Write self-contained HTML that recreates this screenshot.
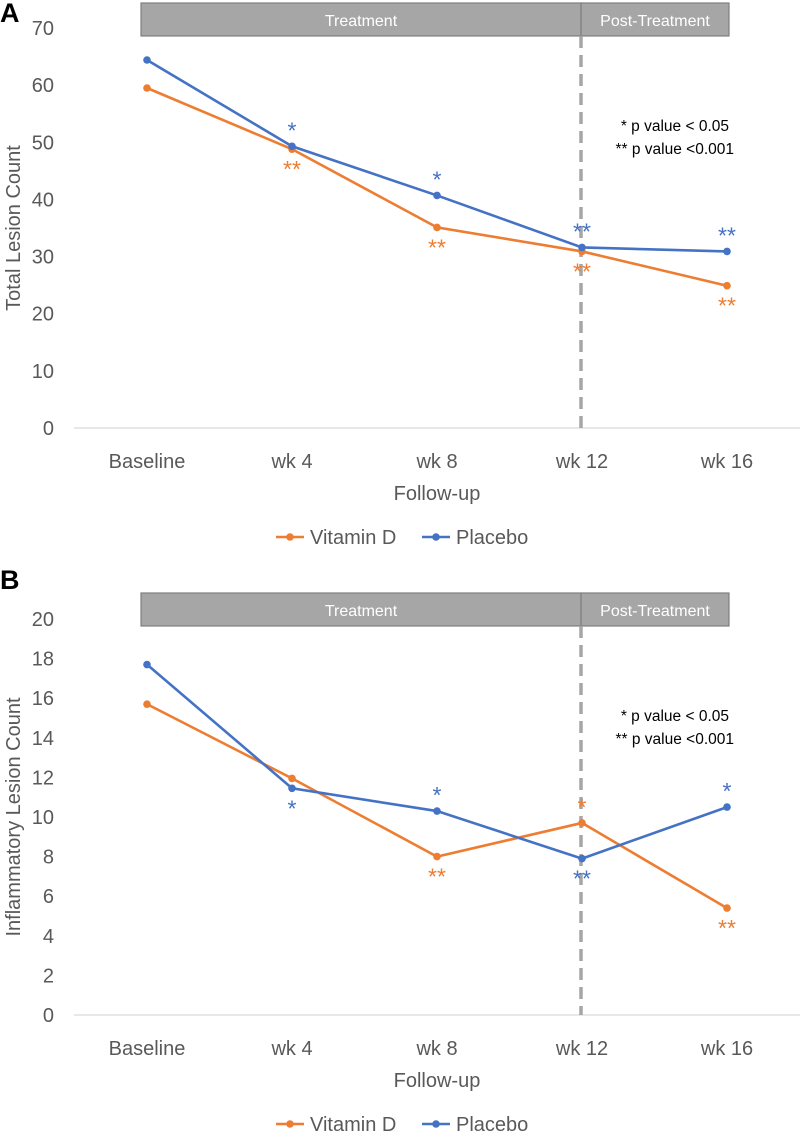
<!DOCTYPE html>
<html><head><meta charset="utf-8"><style>
body{margin:0;background:#fff}
svg text{font-family:"Liberation Sans",sans-serif}
</style></head><body>
<svg id="s" width="800" height="1136" viewBox="0 0 800 1136" xmlns="http://www.w3.org/2000/svg"></svg>
<script>
const categories=["Baseline","wk 4","wk 8","wk 12","wk 16"];
const aVitD=[59.5,48.8,35.1,30.9,24.9];
const aPlacebo=[64.4,49.3,40.7,31.6,30.9];
const aTicks=[0,10,20,30,40,50,60,70];
const aVitDStars=["","**","**","**","**"];
const aPlaceboStars=["","*","*","**","**"];
const bVitD=[15.7,11.95,8.0,9.7,5.4];
const bPlacebo=[17.7,11.45,10.3,7.9,10.5];
const bTicks=[0,2,4,6,8,10,12,14,16,18,20];
const bVitDStars=["","","**","*","**"];
const bPlaceboStars=["","*","*","**","*"];
const bVitDAbove=[false,false,false,true,false];
const bPlaceboAbove=[false,false,true,false,true];

const svg=document.getElementById('s');
const NS="http://www.w3.org/2000/svg";
function mk(tag,attrs,txt){const e=document.createElementNS(NS,tag);for(const k in attrs)e.setAttribute(k,attrs[k]);if(txt!==undefined)e.textContent=txt;svg.appendChild(e);return e;}
const OR="#ED7D31",BL="#4472C4",GR="#595959";
function xPos(i){return 147+i*145;}

function chart(p){
  const y=v=>p.y0-(v-p.min)/(p.max-p.min)*(p.y0-p.yTop);
  let e=mk('text',{x:0,y:p.letterY,'font-size':27,'font-weight':'bold',fill:'#000'},p.letter);
  
  e=mk('rect',{x:141,y:p.boxY,width:440,height:33,fill:'#A6A6A6',stroke:'#7F7F7F','stroke-width':1.2});
  
  e=mk('text',{x:361,y:p.boxY+23,'font-size':16,fill:'#fff','text-anchor':'middle'},'Treatment');
  
  e=mk('rect',{x:581,y:p.boxY,width:148,height:33,fill:'#A6A6A6',stroke:'#7F7F7F','stroke-width':1.2});
  
  e=mk('text',{x:655,y:p.boxY+23,'font-size':16,fill:'#fff','text-anchor':'middle'},'Post-Treatment');
  
  p.ticks.forEach(t=>{
    e=mk('text',{x:54,y:y(t)+7,'font-size':20,fill:GR,'text-anchor':'end'},t);
    
  });
  e=mk('line',{x1:74,x2:800,y1:y(p.min),y2:y(p.min),stroke:'#D9D9D9','stroke-width':1.3});
  
  e=mk('line',{x1:581,x2:581,y1:p.boxY+33,y2:y(p.min),stroke:'#A6A6A6','stroke-width':3.5,'stroke-dasharray':'12,7'});
  
  categories.forEach((c,i)=>{
    e=mk('text',{x:xPos(i),y:y(p.min)+40,'font-size':20,fill:GR,'text-anchor':'middle'},c);
    
  });
  e=mk('text',{x:437,y:y(p.min)+72,'font-size':20,fill:GR,'text-anchor':'middle'},'Follow-up');
  
  const cy=(p.yTop+y(p.min))/2;
  e=mk('text',{x:20,y:cy,'font-size':20,fill:GR,'text-anchor':'middle',transform:`rotate(-90 20 ${cy})`},p.yTitle);
  
  [[p.vit,OR,'vitamin-d'],[p.pla,BL,'placebo']].forEach(([d,c,n])=>{
    e=mk('polyline',{points:d.map((v,i)=>xPos(i)+','+y(v)).join(' '),fill:'none',stroke:c,'stroke-width':2.6});
    
    d.forEach((v,i)=>{
      e=mk('circle',{cx:xPos(i),cy:y(v),r:3.8,fill:c});
      
    });
  });
  [[p.vit,p.vS,p.vA,OR,'vitamin-d'],[p.pla,p.pS,p.pA,BL,'placebo']].forEach(([d,s,a,c,n])=>{
    d.forEach((v,i)=>{ if(!s[i])return;
      const yy=a[i]?y(v)-8:y(v)+28;
      e=mk('text',{x:xPos(i),y:yy,'font-size':23,fill:c,'text-anchor':'middle'},s[i]);
      
    });
  });
  e=mk('text',{x:729,y:p.noteY,'font-size':15.5,fill:'#000','text-anchor':'end'},'* p value < 0.05');
  
  e=mk('text',{x:734,y:p.noteY+23,'font-size':15.5,fill:'#000','text-anchor':'end'},'** p value <0.001');
  
  const ly=p.legY;
  e=mk('line',{x1:276,x2:304,y1:ly,y2:ly,stroke:OR,'stroke-width':2.6});
  e=mk('circle',{cx:290,cy:ly,r:3.8,fill:OR});
  e=mk('text',{x:310,y:ly+7,'font-size':20,fill:GR},'Vitamin D');
  e=mk('line',{x1:422,x2:450,y1:ly,y2:ly,stroke:BL,'stroke-width':2.6});
  e=mk('circle',{cx:436,cy:ly,r:3.8,fill:BL});
  e=mk('text',{x:456,y:ly+7,'font-size':20,fill:GR},'Placebo');
}
chart({id:'a',letter:'A',letterY:22,boxY:3,min:0,max:70,y0:428,yTop:28,ticks:aTicks,yTitle:'Total Lesion Count',
  vit:aVitD,pla:aPlacebo,vS:aVitDStars,pS:aPlaceboStars,vA:[false,false,false,false,false],pA:[true,true,true,true,true],noteY:131,legY:537});
chart({id:'b',letter:'B',letterY:589,boxY:593,min:0,max:20,y0:1015,yTop:619,ticks:bTicks,yTitle:'Inflammatory Lesion Count',
  vit:bVitD,pla:bPlacebo,vS:bVitDStars,pS:bPlaceboStars,vA:bVitDAbove,pA:bPlaceboAbove,noteY:721,legY:1124});
</script>
</body></html>
